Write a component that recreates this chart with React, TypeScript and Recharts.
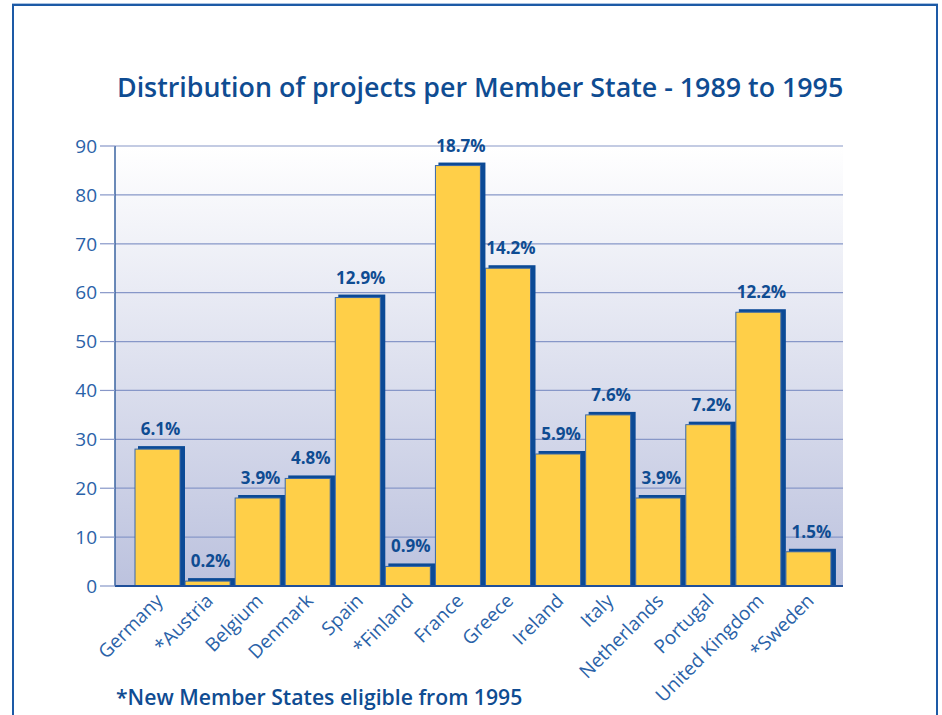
import React from "react";
import {
  BarChart,
  Bar,
  XAxis,
  YAxis,
  CartesianGrid,
  LabelList,
} from "recharts";

// Projects per Member State, 1989-1995
const categories = [
  "Germany", "*Austria", "Belgium", "Denmark", "Spain", "*Finland", "France",
  "Greece", "Ireland", "Italy", "Netherlands", "Portugal", "United Kingdom", "*Sweden",
];
const projects = [28, 1, 18, 22, 59, 4, 86, 65, 27, 35, 18, 33, 56, 7];
const shares = [
  "6.1%", "0.2%", "3.9%", "4.8%", "12.9%", "0.9%", "18.7%",
  "14.2%", "5.9%", "7.6%", "3.9%", "7.2%", "12.2%", "1.5%",
];
const yTicks = [0, 10, 20, 30, 40, 50, 60, 70, 80, 90];

const data = categories.map((name, i) => ({
  name,
  value: projects[i],
  share: shares[i],
}));

const FONT = "'Open Sans', 'Noto Sans', sans-serif";
const DARK_BLUE = "#0f4c92";
const TICK_BLUE = "#2a62a8";

// yellow bar with a dark blue drop shadow to the upper right
const ShadowBar = (props: any) => {
  const { x, y, width, height } = props;
  if (height == null || width == null) return null;
  return (
    <g>
      <rect x={x + 3} y={y - 3} width={width + 2} height={height + 3} fill="#0b4a96" />
      <rect
        x={x}
        y={y}
        width={width}
        height={height}
        fill="#ffcf48"
        stroke="#3a68a8"
        strokeWidth={1}
      />
    </g>
  );
};

const ShareLabel = (props: any) => {
  const { x, y, width, value } = props;
  return (
    <text
      x={x + width / 2 + 3}
      y={y - 14}
      textAnchor="middle"
      fontFamily={FONT}
      fontWeight={700}
      fontSize={17}
      fill={DARK_BLUE}
    >
      {value}
    </text>
  );
};

const CountryTick = (props: any) => {
  const { x, y, payload } = props;
  const ax = x + 7;
  const ay = y + 14;
  return (
    <text
      x={ax}
      y={ay}
      transform={`rotate(-45, ${ax}, ${ay})`}
      textAnchor="end"
      fontFamily={FONT}
      fontSize={19}
      fill={TICK_BLUE}
    >
      {payload.value}
    </text>
  );
};

export default function App() {
  return (
    <div style={{ position: "absolute", left: 0, top: 0, width: 942, height: 715, overflow: "hidden", background: "#fff" }}>
      <div
        style={{
          position: "absolute",
          left: 12,
          top: 4,
          width: 922,
          height: 800,
          border: "2px solid #1d5aa6",
          boxShadow: "0 -1px 0 #a9c2e2",
        }}
      />
      <svg width={0} height={0} style={{ position: "absolute" }}>
        <defs>
          <linearGradient id="plotBg" x1="0" y1="0" x2="0" y2="1">
            <stop offset="0%" stopColor="#ffffff" />
            <stop offset="100%" stopColor="#bcc2de" />
          </linearGradient>
        </defs>
      </svg>
      <div style={{ position: "absolute", left: 0, top: 0 }}>
        <BarChart
          width={942}
          height={715}
          data={data}
          margin={{ top: 146, right: 99, left: 15, bottom: 29 }}
        >
          <CartesianGrid
            vertical={false}
            stroke="#8797c8"
            strokeWidth={1.2}
            fill="url(#plotBg)"
          />
          <XAxis
            dataKey="name"
            interval={0}
            height={100}
            padding={{ left: 17, right: 10 }}
            tickLine={false}
            tickSize={0}
            axisLine={{ stroke: "#1f4f9a", strokeWidth: 2 }}
            tick={<CountryTick />}
          />
          <YAxis
            width={100}
            domain={[0, 90]}
            ticks={yTicks}
            interval={0}
            tickSize={15}
            tickMargin={3}
            tickLine={{ stroke: "#8797c8", strokeWidth: 1.2 }}
            axisLine={{ stroke: "#3a63a0", strokeWidth: 1.5 }}
            tick={{ fontFamily: FONT, fontSize: 19, fill: TICK_BLUE }}
          />
          <Bar
            dataKey="value"
            barSize={45}
            shape={<ShadowBar />}
            isAnimationActive={false}
          >
            <LabelList dataKey="share" content={<ShareLabel />} />
          </Bar>
        </BarChart>
      </div>
      <svg width={942} height={715} style={{ position: "absolute", left: 0, top: 0, pointerEvents: "none" }}>
        <text x={117} y={97} fontFamily={FONT} fontWeight={600} fontSize={26.8} fill={DARK_BLUE}>
          Distribution of projects per Member State - 1989 to 1995
        </text>
        <text x={116} y={705} fontFamily={FONT} fontWeight={600} fontSize={21.2} fill={DARK_BLUE}>
          *New Member States eligible from 1995
        </text>
      </svg>
    </div>
  );
}
